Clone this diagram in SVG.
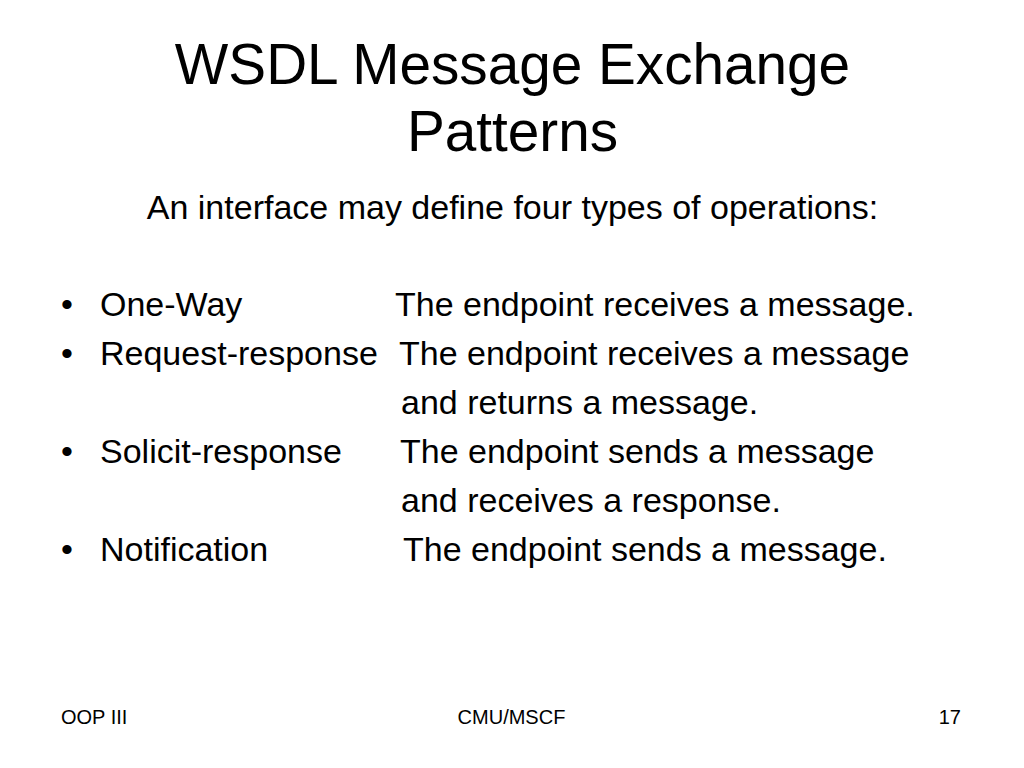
<svg xmlns="http://www.w3.org/2000/svg" width="1024" height="768" viewBox="0 0 1024 768">
<style>
text{font-family:"Liberation Sans",Arial,sans-serif;fill:#000}
.t{font-size:56.7px}
.b{font-size:34px}
.f{font-size:20px}
</style>
<rect width="1024" height="768" fill="#fff"/>
<g id="title">
<text class="t" x="512.5" y="84" text-anchor="middle">WSDL Message Exchange</text>
<text class="t" x="512.5" y="151" text-anchor="middle">Patterns</text>
</g>
<g id="body">
<text class="b" x="512.5" y="219" text-anchor="middle">An interface may define four types of operations:</text>
<text class="b" x="61" y="316">•</text>
<text class="b" x="100" y="316">One-Way</text>
<text class="b" x="395" y="316">The endpoint receives a message.</text>
<text class="b" x="61" y="365">•</text>
<text class="b" x="100" y="365">Request-response</text>
<text class="b" x="399" y="365">The endpoint receives a message</text>
<text class="b" x="401" y="414">and returns a message.</text>
<text class="b" x="61" y="463">•</text>
<text class="b" x="100" y="463">Solicit-response</text>
<text class="b" x="400" y="463">The endpoint sends a message</text>
<text class="b" x="401" y="512">and receives a response.</text>
<text class="b" x="61" y="561">•</text>
<text class="b" x="100" y="561">Notification</text>
<text class="b" x="403" y="561">The endpoint sends a message.</text>
</g>
<g id="footer">
<text class="f" x="61" y="724">OOP III</text>
<text class="f" x="511.5" y="724" text-anchor="middle">CMU/MSCF</text>
<text class="f" x="961" y="724" text-anchor="end">17</text>
</g>
</svg>
